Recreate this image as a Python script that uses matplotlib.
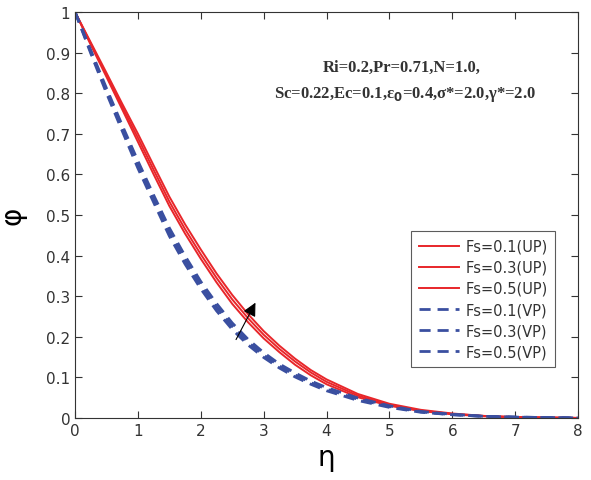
import numpy as np
from matplotlib import pyplot as plt

# eta grid and concentration profiles
eta = [0, 0.25, 0.5, 0.75, 1.0, 1.25, 1.5, 1.75, 2.0, 2.25, 2.5, 2.75, 3.0, 3.25, 3.5, 3.75,
       4.0, 4.5, 5.0, 5.5, 6.0, 6.5, 7.0, 7.5, 8.0]

up_01 = [1.0, .919, .840, .760, .680, .600, .522, .454, .392, .334, .281, .236, .196, .162, .131, .105,
         .083, .051, .030, .017, .009, .004, .002, .001, 0.0]
up_03 = [1.0, .922, .845, .767, .690, .611, .533, .465, .403, .345, .292, .246, .205, .170, .139, .112,
         .089, .055, .032, .018, .010, .005, .002, .001, 0.0]
up_05 = [1.0, .925, .850, .774, .700, .622, .545, .477, .415, .356, .303, .256, .214, .178, .146, .118,
         .095, .059, .035, .020, .011, .005, .002, .001, 0.0]

vp_01 = [1.0, .898, .800, .707, .615, .531, .448, .379, .318, .264, .218, .180, .149, .123, .101, .083,
         .067, .043, .026, .014, .008, .004, .002, .001, 0.0]
vp_03 = [1.0, .902, .806, .714, .624, .540, .458, .389, .327, .273, .226, .187, .155, .128, .106, .087,
         .071, .046, .028, .015, .008, .004, .002, .001, 0.0]
vp_05 = [1.0, .906, .812, .721, .633, .549, .468, .399, .336, .282, .234, .194, .161, .133, .111, .091,
         .075, .049, .030, .016, .009, .004, .002, .001, 0.0]

up_labels = ['Fs=0.1(UP)', 'Fs=0.3(UP)', 'Fs=0.5(UP)']
vp_labels = ['Fs=0.1(VP)', 'Fs=0.3(VP)', 'Fs=0.5(VP)']

fig = plt.figure(figsize=(5.91, 4.81), dpi=100)
ax = fig.add_axes([0.127, 0.129, 0.851, 0.844])

for y, lab in zip([up_01, up_03, up_05], up_labels):
    ax.plot(eta, y, color='#e8262a', lw=1.4, label=lab)
for y, lab in zip([vp_01, vp_03, vp_05], vp_labels):
    ax.plot(eta, y, color='#3a4fa0', lw=2.0, ls=(0, (4, 2.5)), label=lab)

ax.set_xlim(0, 8)
ax.set_ylim(0, 1)
ax.set_xticks(range(9))
ax.set_yticks(np.arange(0, 1.01, 0.1))
ax.set_yticklabels(['0', '0.1', '0.2', '0.3', '0.4', '0.5', '0.6', '0.7', '0.8', '0.9', '1'])
ax.tick_params(direction='in', top=True, right=True, labelsize=11, colors='#333333',
               length=5, width=0.8)
for s in ax.spines.values():
    s.set_color('#333333')
    s.set_linewidth(0.8)

ax.set_xlabel('η', fontsize=20, labelpad=4)
ax.set_ylabel('φ', fontsize=20, labelpad=14)

ax.annotate('', xy=(2.89, 0.29), xytext=(2.54, 0.187),
            arrowprops=dict(arrowstyle='-|>', color='black', lw=0.8, mutation_scale=20))

ax.text(0.65, 0.865, 'Ri=0.2,Pr=0.71,N=1.0,', transform=ax.transAxes, ha='center', va='center',
        fontsize=12, fontweight='bold', family='Liberation Serif', color='#333333')
ax.text(0.655, 0.80, r'Sc=0.22,Ec=0.1,ε$_\mathbf{0}$=0.4,σ*=2.0,γ*=2.0', transform=ax.transAxes,
        ha='center', va='center', fontsize=12, fontweight='bold', family='Liberation Serif',
        color='#333333')

leg = ax.legend(loc='center right', bbox_to_anchor=(0.954, 0.293), fontsize=10.5,
                fancybox=False, edgecolor='#333333', handlelength=2.8, borderaxespad=0,
                labelspacing=0.42, borderpad=0.5, handletextpad=0.4)
leg.get_frame().set_linewidth(0.8)
for t in leg.get_texts():
    t.set_color('#333333')

fig.savefig('out.png', dpi=100)
